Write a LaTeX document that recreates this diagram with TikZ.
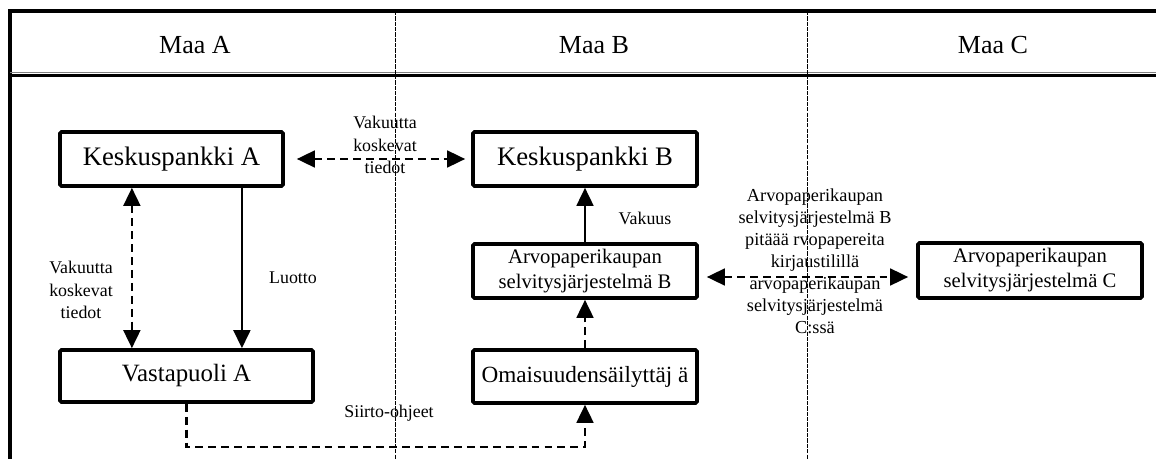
\documentclass[tikz,border=0pt]{standalone}
\usepackage{fontspec}
\setmainfont{Liberation Serif}
\usetikzlibrary{arrows.meta}
\tikzset{>={Triangle[length=12.8pt,width=12pt]},
  box/.style={draw, line width=2.6pt, rounded corners=1pt, inner sep=2pt, align=center},
  lbl/.style={align=center, inner sep=0pt, font=\fontsize{12.7}{15.8}\selectfont},
  head/.style={inner sep=0pt, font=\fontsize{18.5}{22}\selectfont},
  sline/.style={line width=1.5pt},
  dline/.style={line width=1.5pt, dash pattern=on 5.6pt off 3.6pt},
  divider/.style={line width=0.6pt, dash pattern=on 3pt off 0.8pt}}

\begin{document}
\begin{tikzpicture}[x=0.025cm, y=-0.025cm]
   \useasboundingbox (0,0) rectangle (1156,459);
   \draw[line width=2.2pt] (8,11) -- (1156,11);
   \draw[line width=3.2pt] (10,9.9) -- (10,459);
   \draw[gray, line width=0.7pt] (10,72) -- (1156,72);
   \draw[line width=2.2pt] (10,75.5) -- (1156,75.5);
   \draw[divider] (395,11) -- (395,459);
   \draw[divider] (807,11) -- (807,459);
   \node[head] (maaA) at (195,45) {Maa A};
   \node[head] (maaB) at (594,45) {Maa B};
   \node[head] (maaC) at (993,45) {Maa C};

   \node[box, minimum width=5.575cm, minimum height=1.35cm, font=\fontsize{19}{22}\selectfont] (kpA) at (171.5,159) {Keskuspankki A};
   \node[box, minimum width=5.6cm, minimum height=1.35cm, font=\fontsize{19}{22}\selectfont] (kpB) at (585,159) {Keskuspankki B};
   \node[box, minimum width=5.6cm, minimum height=1.35cm, font=\fontsize{14.7}{17.8}\selectfont] (asjB) at (585,271) {Arvopaperikaupan\\selvitysjärjestelmä B};
   \node[box, minimum width=5.6cm, minimum height=1.375cm, font=\fontsize{14.7}{17.8}\selectfont] (asjC) at (1030,270.5) {Arvopaperikaupan\\selvitysjärjestelmä C};
   \node[box, minimum width=6.325cm, minimum height=1.3cm, font=\fontsize{17.7}{21}\selectfont] (vpA) at (186.5,376) {Vastapuoli A};
   \node[box, minimum width=5.6cm, minimum height=1.325cm, font=\fontsize{16.5}{20}\selectfont] (oms) at (585,376.5) {Omaisuudensäilyttäj ä};

   \node[lbl] (tietoAB) at (385,145) {Vakuutta\\koskevat\\tiedot};
   \node[lbl] (tietoA) at (81,290) {Vakuutta\\koskevat\\tiedot};
   \node[lbl] (luotto) at (293,278) {Luotto};
   \node[lbl] (vakuus) at (645,218) {Vakuus};
   \node[lbl] (siirto) at (389,413) {Siirto-ohjeet};
   \node[lbl, font=\fontsize{13}{15.7}\selectfont] (kirjaus) at (815,261.5)
      {Arvopaperikaupan\\selvitysjärjestelmä B\\pitäää rvopapereita\\kirjaustilillä\\arvopaperikaupan\\selvitysjärjestelmä\\C:ssä};

   \draw[dline, <->, shorten <=0.3cm, shorten >=0.15cm] (kpA) -- (kpB);
   \draw[dline, <->] ([xshift=-0.99cm]kpA.south) -- ([xshift=-0.99cm]kpA.south |- vpA.north);
   \draw[sline, ->] ([xshift=1.76cm]kpA.south) -- ([xshift=1.76cm]kpA.south |- vpA.north);
   \draw[sline, ->] (asjB) -- (kpB);
   \draw[dline, ->] (oms) -- (asjB);
   \draw[dline, <->, shorten <=0.2cm, shorten >=0.2cm] ([yshift=-0.15cm]asjB.east) -- ([yshift=-0.15cm]asjB.east -| asjC.west);
   \draw[dline, ->] (vpA.south) -- ++(0,43) -| (oms.south);
\end{tikzpicture}
\end{document}
